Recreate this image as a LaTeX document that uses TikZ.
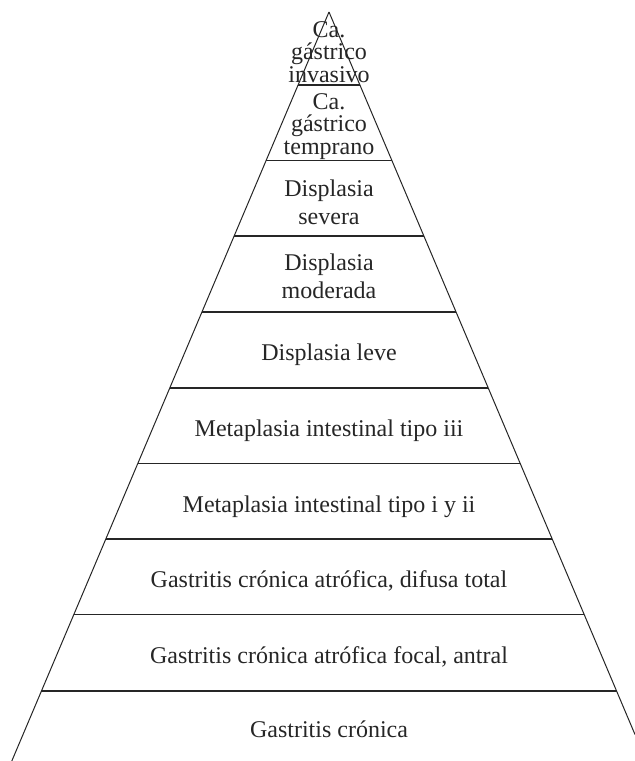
\documentclass[tikz,border=0pt]{standalone}
\usepackage{fontspec}
\setmainfont{Liberation Serif}
\begin{document}
\begin{tikzpicture}[x=1pt,y=-1pt,
  edge/.style={draw=black!85,line width=1pt},
  tier/.style={draw=black!85,line width=1.2pt},
  lbl/.style={anchor=base,inner sep=0pt,text=black!85,font=\fontsize{24}{28}\selectfont},
  tight/.style={lbl,text height=15pt,text depth=4pt}]
\useasboundingbox (0,0) rectangle (635,761);
% pyramid sides
\coordinate (apex) at (329,12);
\coordinate (bl) at (11.8,761);
\coordinate (br) at (635,734.5);
\draw[edge] (apex) -- (bl);
\draw[edge] (apex) -- (br);
% tier dividers
\foreach \y [count=\i] in {85,160.5,236,312,388,463.5,539,614.5,691}{
  \coordinate (l\i) at ({329-0.4235*(\y-12)},\y);
  \coordinate (r\i) at ({329+0.4235*(\y-12)},\y);
  \draw[tier] (l\i) -- (r\i);
}
% labels
\node[tight] (t1a) at (329,37) {Ca.};
\node[tight] (t1b) at (329,59.5) {gástrico};
\node[tight] (t1c) at (329,82) {invasivo};
\node[tight] (t2a) at (329,109) {Ca.};
\node[tight] (t2b) at (329,131.5) {gástrico};
\node[tight] (t2c) at (329,154) {temprano};
\node[lbl] (t3a) at (329,196) {Displasia};
\node[lbl] (t3b) at (329,224) {severa};
\node[lbl] (t4a) at (329,270) {Displasia};
\node[lbl] (t4b) at (329,298) {moderada};
\node[lbl] (t5) at (329,360) {Displasia leve};
\node[lbl] (t6) at (329,436) {Metaplasia intestinal tipo iii};
\node[lbl] (t7) at (329,512) {Metaplasia intestinal tipo i y ii};
\node[lbl] (t8) at (329,587) {Gastritis crónica atrófica, difusa total};
\node[lbl] (t9) at (329,663) {Gastritis crónica atrófica focal, antral};
\node[lbl] (t10) at (329,737) {Gastritis crónica};
\end{tikzpicture}
\end{document}
